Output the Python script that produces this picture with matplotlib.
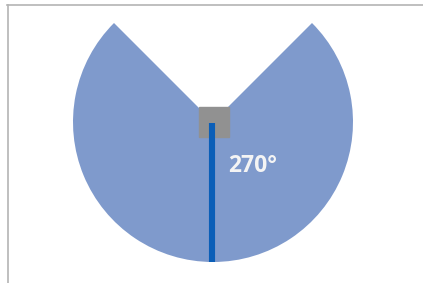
import numpy as np
import matplotlib
matplotlib.use('Agg')
import matplotlib.pyplot as plt
from matplotlib.patches import Rectangle

# angle gauge: 270 deg shown, 90 deg gap at the top
slices = [270, 90]
slice_colors = ['#7f9acc', 'none']
label = '270°'

W, H = 423, 283
cx, cy, r = 213, H - 122, 140

fig = plt.figure(figsize=(W / 100, H / 100), dpi=100)
ax = fig.add_axes([0, 0, 1, 1])
ax.pie(slices, colors=slice_colors, startangle=135, counterclock=True,
       center=(cx, cy), radius=r, frame=True,
       wedgeprops=dict(linewidth=0))
ax.set_xlim(0, W)
ax.set_ylim(0, H)
ax.set_aspect('equal')
ax.axis('off')

# hub, then the needle pointing down drawn on top of it
ax.add_patch(Rectangle((cx + 1 - 15, cy - 15), 30, 30, color='#919191', zorder=3))
ang = np.deg2rad(270)
ax.plot([cx - 1, cx - 1 + r * np.cos(ang)], [cy - 1, cy + r * np.sin(ang)],
        color='#0a5eb8', lw=4.4, solid_capstyle='butt', zorder=4)

ax.text(228, H - 166, label, color='#f4f4f4', fontsize=16.5, fontweight='bold',
        family='Open Sans', va='center', ha='left', zorder=5)

# outer frame (left and top edges)
ax.plot([7.5, 7.5], [0, H - 5], color='#b4b4b4', lw=1.2, zorder=6)
ax.plot([7, W], [H - 5, H - 5], color='#b4b4b4', lw=1.2, zorder=6)

fig.savefig('out.png', dpi=100)
